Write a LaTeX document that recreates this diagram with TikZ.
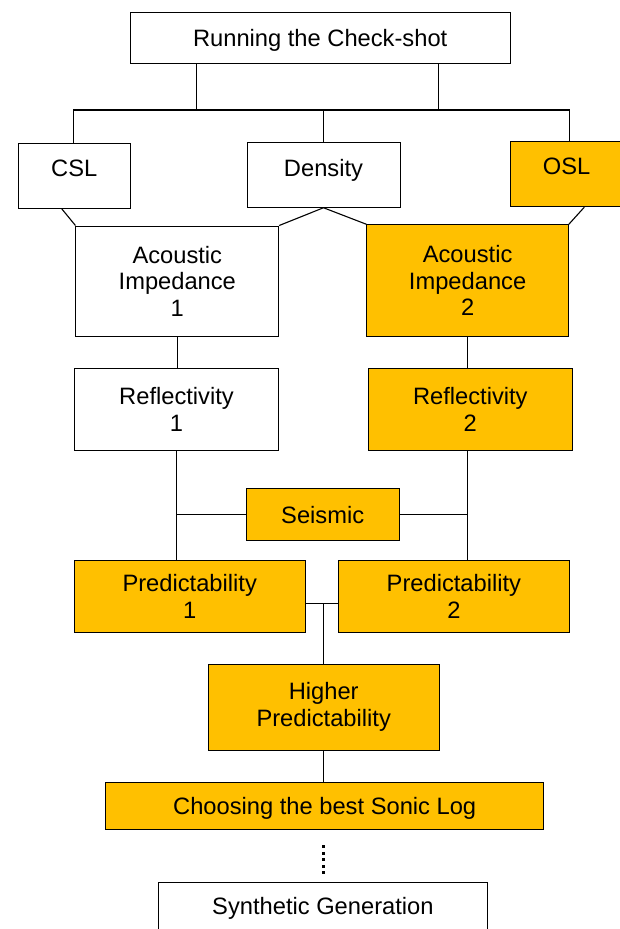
\documentclass[tikz,border=0pt]{standalone}
\usepackage{fontspec}
\setmainfont{Liberation Sans}
\usetikzlibrary{calc}
\definecolor{myorange}{HTML}{FFC000}
\begin{document}
\begin{tikzpicture}[x=1pt,y=-1pt,
  box/.style={draw=black, line width=0.9pt, rectangle, inner sep=0pt, align=center,
              font=\fontsize{23.7}{26.7}\selectfont},
  obox/.style={box, fill=myorange},
  oneline/.style={text height=17pt, text depth=0pt},
  raised/.style={text height=17pt, text depth=15pt},
  link/.style={line width=1.1pt, draw=black},
  dots/.style={line width=2.6pt, draw=black, dash pattern=on 3pt off 3.5pt, shorten <=15.7pt, shorten >=8.7pt}]
\useasboundingbox (0,0) rectangle (620,929);
\clip (0,0) rectangle (620,929);

% nodes
\node[box, oneline, minimum width=379.6pt, minimum height=50.6pt] (run) at (320.2,38) {Running the Check-shot};
\node[box, raised, minimum width=112pt, minimum height=65pt] (csl) at (74.3,175.8) {CSL};
\node[box, raised, minimum width=153pt, minimum height=64.6pt] (den) at (323.5,175) {Density};
\node[obox, raised, minimum width=111.8pt, minimum height=65.7pt] (osl) at (566.6,173.9) {OSL};
\node[box, minimum width=202.8pt, minimum height=110.7pt] (ai1) at (177.3,281.3) {Acoustic\\Impedance\\1};
\node[obox, minimum width=201.6pt, minimum height=112pt] (ai2) at (467.6,280.7) {Acoustic\\Impedance\\2};
\node[box, minimum width=204.4pt, minimum height=82pt] (ref1) at (176.5,409.7) {Reflectivity\\1};
\node[obox, minimum width=203.9pt, minimum height=82pt] (ref2) at (470.3,409.7) {Reflectivity\\2};
\node[obox, oneline, minimum width=153pt, minimum height=52pt] (seis) at (322.7,514.7) {Seismic};
\node[obox, minimum width=230.8pt, minimum height=72.7pt] (pred1) at (189.7,596.3) {Predictability\\1};
\node[obox, minimum width=230.7pt, minimum height=72.7pt] (pred2) at (453.9,596.3) {Predictability\\2};
\node[obox, minimum width=230.8pt, minimum height=85.7pt] (high) at (323.7,707.2) {Higher\\Predictability};
\node[obox, oneline, minimum width=437.6pt, minimum height=46.6pt] (choose) at (324.7,806) {Choosing the best Sonic Log};
\node[box, oneline, minimum width=329.4pt, minimum height=47.3pt] (synth) at (322.9,906.35) {Synthetic Generation};

% bus below the top box
\coordinate (bA) at (196.8,110);
\coordinate (bB) at (438.7,110);
\coordinate (bL) at (73.9,110);
\coordinate (bR) at (569.2,110);
\coordinate (bM) at (323.3,110);
\draw[link] (bA |- run.south) -- (bA);
\draw[link] (bB |- run.south) -- (bB);
\draw[link] (bL |- csl.north) -- (bL) -- (bR) -- (bR |- osl.north);
\draw[link] (bM) -- (bM |- den.north);

% diagonals into the impedance boxes
\draw[link] ($(csl.south)+(-12.6,0)$) -- (ai1.north west);
\draw[link] (ai1.north east) -- (den.south) -- (ai2.north west);
\draw[link] ($(osl.south)+(17.7,0)$) -- (ai2.north east);

% verticals
\draw[link] (ai1.south) -- (ai1.south |- ref1.north);
\draw[link] (ai2.south) -- (ai2.south |- ref2.north);
\draw[link] (ref1.south) -- (ref1.south |- pred1.north);
\draw[link] (ai2.south |- ref2.south) -- (ai2.south |- pred2.north);
\draw[link] (seis.west) -- (seis.west -| ref1.south);
\draw[link] (seis.east) -- (seis.east -| ai2.south);

% predictability join
\coordinate (pj) at (323.3,603.3);
\draw[link] (pj -| pred1.east) -- (pj -| pred2.west);
\draw[link] (pj) -- (pj |- high.north);
\draw[link] (high.south) -- (high.south |- choose.north);
\draw[dots] (high.south |- choose.south) -- (high.south |- synth.north);
\end{tikzpicture}
\end{document}
